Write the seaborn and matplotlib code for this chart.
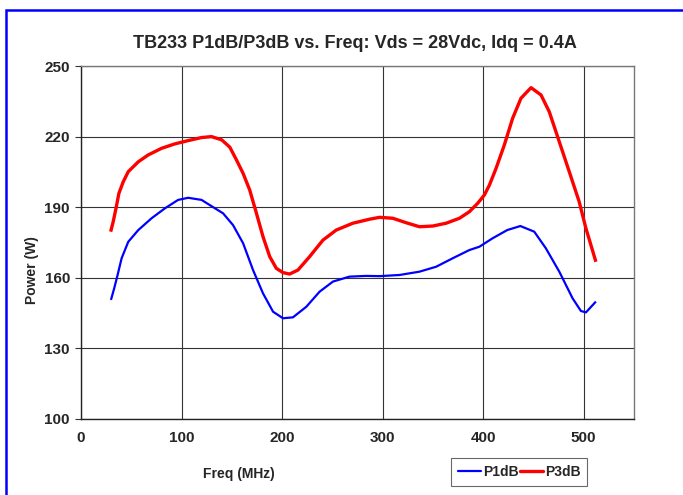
import matplotlib
matplotlib.use("Agg")
import matplotlib.pyplot as plt
import seaborn as sns
import pandas as pd
from matplotlib.patches import Rectangle
from matplotlib.lines import Line2D

# ---- data ----
p3_freq = [29.5, 32, 34.8, 37.7, 42, 47, 57, 66.8, 80, 93.3, 106.6, 119.9, 129.8,
           140, 148, 154.6, 161.2, 167.8, 174.5, 181, 187.7, 194.3, 200.9, 207.5,
           215.8, 227.4, 240.6, 253.9, 270.4, 287, 297, 310.1, 323.4, 336.6,
           349.9, 363.2, 376.4, 386.3, 394.6, 401.2, 406.2, 412.8, 421, 429.3,
           437.6, 447.6, 457.5, 465.7, 475.7, 485.6, 495.5, 502.2, 512.1]
p3_power = [179.6, 183.8, 189.5, 195.9, 200.8, 205.1, 209.3, 212.2, 215, 216.9,
            218.3, 219.6, 220, 218.6, 215.5, 210.1, 204.4, 197.3, 187.4, 177.5,
            169, 164.0, 162.2, 161.6, 163.3, 169, 176, 180.3, 183.2, 184.9,
            185.7, 185.3, 183.4, 181.7, 182.0, 183.2, 185.3, 188.1, 191.7, 195.2,
            199.4, 206.5, 216.4, 227.8, 236.3, 240.8, 237.7, 230.6, 217.8, 205.1,
            192.3, 181.0, 166.8]
p1_freq = [29.8, 33, 36.4, 40.4, 47, 57, 70.2, 83.4, 96.6, 106.6, 119.9, 128.1,
           141.3, 151.2, 161.2, 171.1, 181, 191, 200.9, 210.8, 224.1, 237.3,
           250.6, 267.1, 283.7, 297, 316.8, 336.6, 353.2, 369.7, 386.3, 396.2,
           409.4, 424, 437, 450.8, 462.4, 475.7, 488.9, 497.2, 502.2, 512.1]
p1_power = [150.6, 155.5, 161.2, 168.3, 175.3, 180.3, 185.3, 189.5, 193.1, 194.0,
            193.1, 190.9, 187.4, 182.4, 174.7, 163.3, 153.4, 145.6, 142.8, 143.2,
            147.7, 154.1, 158.4, 160.5, 160.8, 160.7, 161.2, 162.6, 164.7, 168.3,
            171.8, 173.2, 176.8, 180.3, 182.0, 179.6, 172.5, 162.6, 151.3, 145.9,
            145.3, 149.9]
series_names = ["P1dB", "P3dB"]
x_ticks = [0, 100, 200, 300, 400, 500]
y_ticks = [100, 130, 160, 190, 220, 250]
title = "TB233 P1dB/P3dB vs. Freq: Vds = 28Vdc, Idq = 0.4A"
x_label = "Freq (MHz)"
y_label = "Power (W)"

df = pd.concat([
    pd.DataFrame({"freq": p1_freq, "power": p1_power, "series": series_names[0]}),
    pd.DataFrame({"freq": p3_freq, "power": p3_power, "series": series_names[1]}),
])

sns.set_style("white")
plt.rcParams["font.family"] = ["Liberation Sans", "DejaVu Sans"]

fig = plt.figure(figsize=(6.83, 4.95), dpi=100)
ax = fig.add_axes([81 / 683, 1 - 419 / 495, (634 - 81) / 683, (419 - 66) / 495])

sns.lineplot(data=df, x="freq", y="power", hue="series",
             palette={"P1dB": "#0000ff", "P3dB": "#ff0000"}, ax=ax,
             sort=False, estimator=None, legend=False)
for line, lw in zip(ax.lines, [1.6, 2.4]):
    line.set_linewidth(lw)
    line.set_solid_capstyle("butt")
    line.set_solid_joinstyle("round")

ax.set_xlim(0, 550)
ax.set_ylim(100, 250)
ax.set_xticks(x_ticks)
ax.set_yticks(y_ticks)
ax.grid(True, color="#333333", linewidth=0.8)
ax.set_axisbelow(True)
for s in ["left", "bottom"]:
    ax.spines[s].set_color("#222222")
    ax.spines[s].set_linewidth(1.0)
for s in ["top", "right"]:
    ax.spines[s].set_color("#777777")
    ax.spines[s].set_linewidth(1.0)
ax.tick_params(axis="y", which="major", length=4, width=0.8, color="#333333",
               direction="out", left=True, pad=4, labelsize=11)
ax.tick_params(axis="x", which="major", length=0, pad=9, labelsize=11)
for lab in ax.get_xticklabels() + ax.get_yticklabels():
    lab.set_fontweight("bold")
ax.set_xlabel("")
ax.set_ylabel("")

fig.text(355 / 683, 1 - 44 / 495, title, ha="center", va="center",
         fontsize=13, fontweight="bold")
fig.text(239 / 683, 1 - 474 / 495, x_label, ha="center", va="center",
         fontsize=10, fontweight="bold")
fig.text(32 / 683, 1 - 270 / 495, y_label, ha="center", va="center",
         fontsize=10, fontweight="bold", rotation=90)

handles = [Line2D([], [], color="#0000ff", lw=1.6), Line2D([], [], color="#ff0000", lw=2.4)]
leg = fig.legend(handles, series_names, loc="center", ncol=2,
                 bbox_to_anchor=(519 / 683, 1 - 472 / 495),
                 frameon=True, fancybox=False, shadow=False,
                 handlelength=1.7, handletextpad=0.1, columnspacing=0.1,
                 borderpad=0.5, prop={"weight": "bold", "size": 10})
leg.get_frame().set_edgecolor("#444444")
leg.get_frame().set_linewidth(0.8)

# blue outer frame (extends past the right and bottom edges)
fig.patches.append(Rectangle((6 / 683, -0.1), 1.2, 1 - 10 / 495 + 0.1,
                             transform=fig.transFigure, fill=False,
                             edgecolor="#0000ff", linewidth=1.8))

fig.savefig("out.png", dpi=100)
